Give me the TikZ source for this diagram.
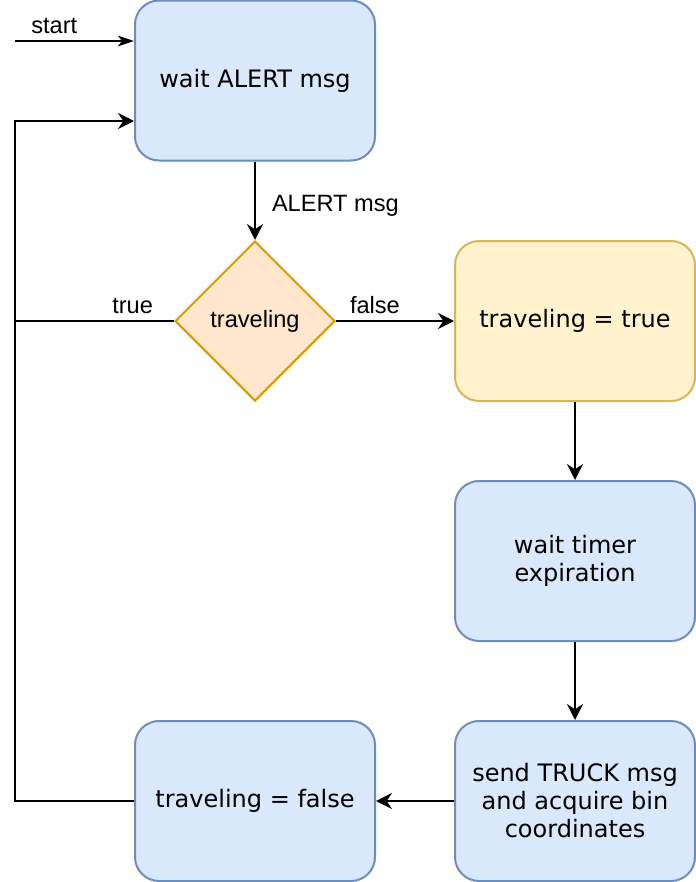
\documentclass[tikz,border=0pt]{standalone}
\usepackage{fontspec}
\setmainfont{DejaVu Sans}
\newfontfamily\labfont{Liberation Sans}
\usetikzlibrary{shapes.geometric,arrows.meta}
\definecolor{bluefill}{HTML}{DAE8FC}
\definecolor{blueline}{HTML}{6C8EBF}
\definecolor{orangefill}{HTML}{FFE6CC}
\definecolor{orangeline}{HTML}{D79B00}
\definecolor{yellowfill}{HTML}{FFF2CC}
\definecolor{yellowline}{HTML}{D6B656}
\tikzset{>={Stealth[length=12pt,width=12pt,inset=4pt]}}
\tikzset{state/.style={draw=blueline,fill=bluefill,line width=1.5pt,rounded corners=18pt,
    minimum width=180pt,minimum height=120pt,align=center,inner sep=0pt,
    font=\fontsize{18}{21}\selectfont},
  choice/.style={diamond,draw=orangeline,fill=orangefill,line width=1.5pt,
    minimum width=120pt,minimum height=120pt,inner sep=0pt,font=\labfont\fontsize{17.7}{21}\selectfont},
  lab/.style={font=\labfont\fontsize{17.7}{21}\selectfont,inner sep=2pt},
  flow/.style={->,line width=1.5pt}}

\begin{document}
\begin{tikzpicture}[x=0.75pt,y=-0.75pt]
  \useasboundingbox (0,0) rectangle (696,882);
  \node[state] (wait) at (255,80.5) {wait ALERT msg};
  \node[choice] (trav) at (255,321) {traveling};
  \node[state,draw=yellowline,fill=yellowfill] (settrue) at (575,321) {traveling = true};
  \node[state] (timer) at (575,561) {wait timer\\expiration};
  \node[state] (send) at (575,801) {send TRUCK msg\\and acquire bin\\coordinates};
  \node[state] (setfalse) at (255,801) {traveling = false};
  \coordinate (start) at (15,41);
  \coordinate (back) at (15,121);
  \begin{scope}[flow]
    \draw[-{Stealth[length=12pt,width=8pt,inset=3pt]}] (start) -- (start -| wait.west)
      node[lab,pos=0.33,above=3pt] {start};
    \draw (wait) -- (trav) node[lab,pos=0.56,right=10pt] {ALERT msg};
    \draw (trav) -- (settrue) node[lab,pos=0.33,above=3pt] {false};
    \draw (settrue) -- (timer);
    \draw (timer) -- (send);
    \draw (send) -- (setfalse);
    \draw (setfalse.west) -| (back) -- (back -| wait.west);
  \end{scope}
  \draw[line width=1.5pt] (trav.west) -- (trav.west -| back)
    node[lab,pos=0.26,above=3pt] {true};
\end{tikzpicture}
\end{document}
